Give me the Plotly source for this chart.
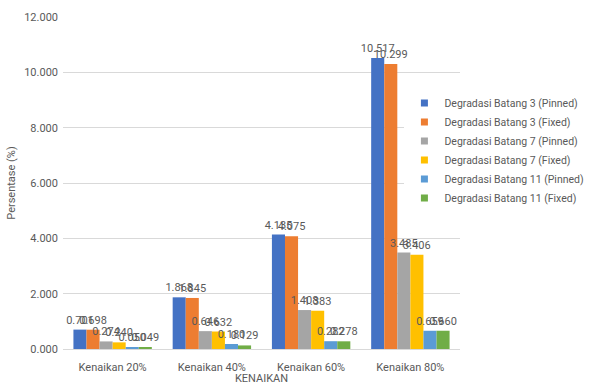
import plotly.graph_objects as go

categories = ["Kenaikan 20%", "Kenaikan 40%", "Kenaikan 60%", "Kenaikan 80%"]

series_names = [
    "Degradasi Batang 3 (Pinned)",
    "Degradasi Batang 3 (Fixed)",
    "Degradasi Batang 7 (Pinned)",
    "Degradasi Batang 7 (Fixed)",
    "Degradasi Batang 11 (Pinned)",
    "Degradasi Batang 11 (Fixed)",
]

batang3_pinned = [0.701, 1.868, 4.135, 10.517]
batang3_fixed = [0.698, 1.845, 4.075, 10.299]
batang7_pinned = [0.274, 0.646, 1.408, 3.485]
batang7_fixed = [0.240, 0.632, 1.383, 3.406]
batang11_pinned = [0.050, 0.180, 0.282, 0.659]
batang11_fixed = [0.049, 0.129, 0.278, 0.660]

series_values = [batang3_pinned, batang3_fixed, batang7_pinned,
                 batang7_fixed, batang11_pinned, batang11_fixed]
colors = ["#4472C4", "#ED7D31", "#A5A5A5", "#FFC000", "#5B9BD5", "#70AD47"]

y_ticks = [0, 2, 4, 6, 8, 10, 12]

FONT = "Roboto"
GREY = "#595959"

fig = go.Figure()
for name, vals, col in zip(series_names, series_values, colors):
    fig.add_trace(go.Bar(
        x=categories, y=vals, name=name, showlegend=False,
        marker=dict(color=col, line=dict(width=0)),
        texttemplate="%{y:.3f}", textposition="outside",
        constraintext="none",
        textfont=dict(family=FONT, size=11, color=GREY),
        cliponaxis=False,
    ))

# small square legend keys
for name, col in zip(series_names, colors):
    fig.add_trace(go.Scatter(
        x=[None], y=[None], mode="markers", name=name,
        marker=dict(symbol="square", size=7, color=col),
    ))

fig.update_layout(
    width=593, height=385,
    margin=dict(l=63, r=133, t=17, b=36, autoexpand=False),
    paper_bgcolor="white", plot_bgcolor="white",
    barmode="group", bargap=0.21, bargroupgap=0,
    font=dict(family=FONT, size=11, color=GREY),
    showlegend=True,
    legend=dict(
        x=0.86, y=0.785, xanchor="left", yanchor="top",
        bgcolor="white", font=dict(family=FONT, size=10.5, color=GREY),
        itemwidth=30, tracegroupgap=0,
    ),
)
fig.update_xaxes(
    showline=True, linecolor="#D9D9D9", linewidth=1,
    ticks="", ticklabelstandoff=8,
    tickfont=dict(family=FONT, size=11, color=GREY),
    title=dict(text="KENAIKAN", font=dict(family=FONT, size=11, color=GREY), standoff=2),
)
fig.update_yaxes(
    range=[0, 12], tickvals=y_ticks,
    ticktext=[f"{v:.3f}" for v in y_ticks],
    showgrid=True, gridcolor="#D9D9D9", gridwidth=1, zeroline=False,
    ticklabelstandoff=4,
    tickfont=dict(family=FONT, size=11, color=GREY),
    title=dict(text="Persentase (%)", font=dict(family=FONT, size=11, color=GREY), standoff=6),
)

fig.write_html("out.html")
